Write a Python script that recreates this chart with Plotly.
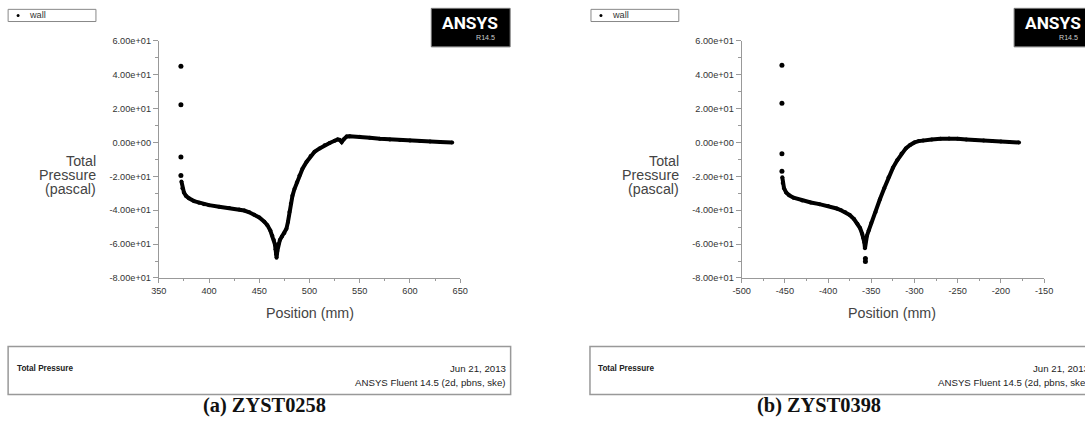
import plotly.graph_objects as go

# The page is photographed together with the 8 px body margin and resampled to
# 1085 x 422, so positions are laid out in final-picture pixels and mapped back.
PIC_W, PIC_H = 1085, 422
MARGIN = 8
SX, SY = (PIC_W + 2 * MARGIN) / PIC_W, (PIC_H + 2 * MARGIN) / PIC_H
W, H = PIC_W + MARGIN, PIC_H + MARGIN
FS = 1.02  # font scale to offset the resampling
FONT = "Liberation Sans, Arial, sans-serif"

# ---- (a) ZYST0258: total pressure along the wall ----
pos_a = [372.5, 373.5, 375, 377, 380, 385, 390, 395, 400, 410, 420, 430, 435, 440,
         445, 450, 455, 458, 461, 463, 464.5, 465.5, 466.2, 466.8, 467.2, 468, 469,
         470.5, 472.5, 475, 477, 478.5, 480, 481.5, 483, 485, 487.5, 490, 493, 497,
         501, 505, 510, 515, 520, 525, 528, 530, 532, 534, 537, 540, 550, 560, 570,
         580, 590, 600, 610, 620, 630, 642]
tp_a = [-23.0, -27.0, -29.5, -31.5, -33.0, -34.6, -35.6, -36.4, -37.0, -37.9, -38.7,
        -39.6, -40.2, -41.2, -42.6, -44.3, -46.8, -48.8, -52.0, -55.0, -57.6, -60.0,
        -63.0, -66.0, -68.0, -64.0, -60.0, -57.5, -55.5, -53.5, -51.0, -47.0, -41.0,
        -36.0, -31.5, -27.5, -23.5, -19.5, -15.5, -11.5, -8.0, -5.5, -3.5, -1.6, -0.3,
        1.0, 1.8, 1.5, 0.2, 1.8, 3.5, 3.6, 3.4, 2.8, 2.2, 1.8, 1.4, 1.1, 0.8, 0.6, 0.3,
        0.0]
# scattered wall nodes at the inlet corner
pos_a_pts = [372, 372, 372, 372]
tp_a_pts = [45.0, 22.2, -8.6, -19.5]

# ---- (b) ZYST0398 ----
pos_b = [-453, -452.5, -451, -448.5, -445, -440, -430, -420, -410, -400, -390, -385,
         -380, -375, -370, -366, -363, -360.5, -359, -358, -357.3, -356.5, -355, -353,
         -350, -345, -340, -335, -330, -325, -320, -315, -310, -305, -300, -295, -290,
         -280, -270, -260, -250, -240, -230, -220, -210, -200, -190, -179]
tp_b = [-20.5, -24.0, -27.0, -29.6, -31.2, -32.6, -34.2, -35.4, -36.4, -37.5, -39.0,
        -40.0, -41.2, -42.8, -45.2, -48.0, -50.5, -54.0, -56.5, -59.0, -62.5, -58.0,
        -55.0, -52.0, -47.5, -41.0, -33.5, -27.0, -20.5, -15.0, -10.5, -6.5, -3.5,
        -1.5, 0.0, 0.8, 1.2, 1.8, 2.2, 2.4, 2.2, 1.8, 1.5, 1.2, 0.9, 0.6, 0.3, 0.0]
pos_b_pts = [-453.4, -453.4, -453.4, -453.4, -356.8, -356.8]
tp_b_pts = [45.5, 23.2, -6.6, -17.0, -68.5, -70.2]

x_ticks_a = [350, 400, 450, 500, 550, 600, 650]
x_ticks_b = [-500, -450, -400, -350, -300, -250, -200, -150]
x_tick_text_b = ["-500", "-450", "-400", "-350", "-300", "-250", "-200", "-150"]
y_ticks = [60, 40, 20, 0, -20, -40, -60, -80]
y_tick_text = ["6.00e+01", "4.00e+01", "2.00e+01", "0.00e+00",
               "-2.00e+01", "-4.00e+01", "-6.00e+01", "-8.00e+01"]


def px(x):
    """picture column -> paper fraction"""
    return (x * SX - MARGIN) / W


def py(y):
    """picture row (from top) -> paper fraction"""
    return 1 - (y * SY - MARGIN) / H


fig = go.Figure()
for xs, ys, xp, yp, xa, ya in [(pos_a, tp_a, pos_a_pts, tp_a_pts, "x", "y"),
                                (pos_b, tp_b, pos_b_pts, tp_b_pts, "x2", "y2")]:
    fig.add_trace(go.Scatter(x=xs, y=ys, mode="lines+markers", name="wall",
                             line=dict(color="black", width=4),
                             marker=dict(color="black", size=4),
                             xaxis=xa, yaxis=ya, showlegend=False))
    fig.add_trace(go.Scatter(x=xp, y=yp, mode="markers", name="wall",
                             marker=dict(color="black", size=5),
                             xaxis=xa, yaxis=ya, showlegend=False))

axis_common = dict(showline=True, linecolor="#999", linewidth=1, ticks="outside",
                   tickcolor="#999", showgrid=False, zeroline=False,
                   tickfont=dict(family=FONT, size=9 * FS, color="#333"))

y_dom = [py(277), py(43)]
fig.update_layout(
    width=W, height=H, margin=dict(l=0, r=0, t=0, b=0),
    paper_bgcolor="white", plot_bgcolor="white",
    xaxis=dict(domain=[px(158), px(460)], range=[350, 650], anchor="y",
               tickmode="array", tickvals=x_ticks_a, ticklen=4,
               minor=dict(tickmode="linear", tick0=350, dtick=25, ticks="outside",
                          ticklen=2, tickcolor="#999"),
               **axis_common),
    yaxis=dict(domain=y_dom, range=[-80, 60], anchor="x",
               tickmode="array", tickvals=y_ticks, ticktext=y_tick_text, ticklen=5,
               minor=dict(tickmode="linear", tick0=-80, dtick=10, ticks="outside",
                          ticklen=3, tickcolor="#999"),
               **axis_common),
    xaxis2=dict(domain=[px(742), px(1045)], range=[-500, -150], anchor="y2",
                tickmode="array", tickvals=x_ticks_b, ticktext=x_tick_text_b,
                ticklen=4,
                minor=dict(tickmode="linear", tick0=-500, dtick=25, ticks="outside",
                           ticklen=2, tickcolor="#999"),
                **axis_common),
    yaxis2=dict(domain=y_dom, range=[-80, 60], anchor="x2",
                tickmode="array", tickvals=y_ticks, ticktext=y_tick_text, ticklen=5,
                minor=dict(tickmode="linear", tick0=-80, dtick=10, ticks="outside",
                           ticklen=3, tickcolor="#999"),
                **axis_common),
)

shapes = []
ann = []


def text(x, y, s, size, color="#333", anchor="center", bold=False, family=FONT):
    if bold:
        s = "<b>" + s + "</b>"
    ann.append(dict(x=px(x), y=py(y), xref="paper", yref="paper", text=s,
                    showarrow=False, xanchor=anchor, yanchor="middle",
                    font=dict(family=family, size=size * FS, color=color)))


for dx, cap, cap_x, box_left, right_edge in [(0, "(a) ZYST0258", 264, 7, 510.5),
                                             (584, "(b) ZYST0398", 819, 590, 1096)]:
    # legend box
    shapes.append(dict(type="rect", xref="paper", yref="paper",
                       x0=px(7 + dx), x1=px(95 + dx), y0=py(24), y1=py(12),
                       line=dict(color="#888", width=1), fillcolor="white"))
    shapes.append(dict(type="circle", xref="paper", yref="paper",
                       x0=px(15.5 + dx), x1=px(18.5 + dx), y0=py(19.5), y1=py(16.5),
                       line=dict(color="black", width=0), fillcolor="black"))
    text(26 + dx, 18, "wall", 9, anchor="left")
    # ANSYS logo
    shapes.append(dict(type="rect", xref="paper", yref="paper",
                       x0=px(431 + dx), x1=px(510 + dx), y0=py(49), y1=py(11),
                       line=dict(color="#777", width=1), fillcolor="black"))
    text(469.5 + dx, 25, "ANSYS", 17, color="white", bold=True,
         family="Roboto, DejaVu Sans, sans-serif")
    text(497 + dx, 40, "R14.5", 7, color="#ccc", anchor="right")
    # axis titles
    text(97 + dx, 162, "Total", 14, color="#444", anchor="right")
    text(97 + dx, 175.5, "Pressure", 14, color="#444", anchor="right")
    text(97 + dx, 189, "(pascal)", 14, color="#444", anchor="right")
    text(309 + dx, 312, "Position (mm)", 14, color="#444")
    # info box
    shapes.append(dict(type="rect", xref="paper", yref="paper",
                       x0=px(box_left), x1=px(right_edge),
                       y0=py(392), y1=py(344.5),
                       line=dict(color="#999", width=1.5), fillcolor="rgba(0,0,0,0)"))
    text(box_left + 6.5, 366, "Total Pressure", 8, anchor="left",
         bold=True, color="#222")
    text(508 + dx, 366, "Jun 21, 2013", 9.5, anchor="right", color="#222")
    text(508 + dx, 380, "ANSYS Fluent 14.5 (2d, pbns, ske)", 9.5, anchor="right",
         color="#222")
    # caption
    text(cap_x, 403, cap, 20, color="#111", bold=True,
         family="Liberation Serif, Times New Roman, serif")

fig.update_layout(shapes=shapes, annotations=ann)
fig.write_html("out.html")
